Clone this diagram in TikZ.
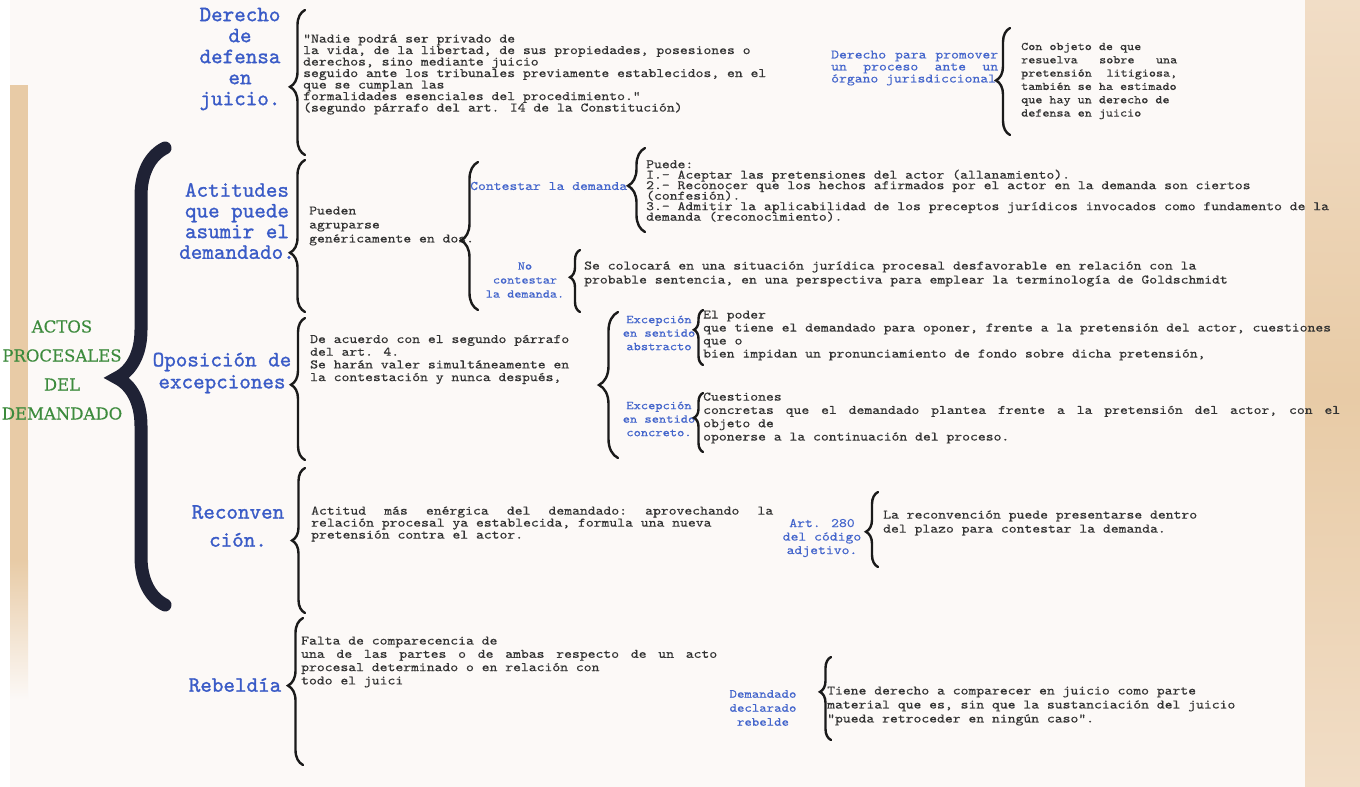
\documentclass[tikz,border=0pt]{standalone}
\usepackage{fontspec}
\usetikzlibrary{decorations.pathreplacing}

\newfontfamily\headfont{lmmono10-regular.otf}[FakeBold=1.2]
\newfontfamily\bodyfont{lmmono10-regular.otf}[FakeStretch=1.15, FakeBold=0.35]
\newfontfamily\titlefont{DejaVu Serif}[FakeBold=0.4]

\definecolor{paper}{HTML}{FCF9F7}
\definecolor{beige}{HTML}{E8CBA6}
\definecolor{beigelight}{HTML}{F1DDC6}
\definecolor{headblue}{HTML}{3A5BC7}
\definecolor{subblue}{HTML}{4466CC}
\definecolor{ink}{HTML}{333333}
\definecolor{titlegreen}{HTML}{3D8B3D}
\definecolor{navy}{HTML}{1F2235}
\definecolor{braceink}{HTML}{1A1A1A}

% one line stretched to a given width
\newcommand\jline[2]{{\frenchspacing\spaceskip=\fontdimen2\font plus 1fil\makebox[#1][s]{#2}}}
% fixed line pitch, even for tall lines
\newcommand\tightlines{\lineskiplimit=-20pt\relax}

\tikzset{
  title/.style={font={\fontsize{16.5}{29}\selectfont\titlefont}, text=titlegreen, align=center, inner sep=0pt},
  heading/.style={font={\fontsize{22}{#1}\selectfont\headfont\tightlines}, text=headblue, align=center, inner sep=0pt},
  heading/.default=21,
  sub/.style 2 args={font={\fontsize{#1}{#2}\selectfont\bodyfont\tightlines}, text=subblue, align=center, inner sep=0pt},
  body/.style={font={\fontsize{13}{#1}\selectfont\bodyfont\tightlines}, text=ink, align=left, anchor=west, inner sep=0pt},
  body/.default=13,
  brc/.style n args={2}{decorate, decoration={brace, amplitude=#1pt, aspect=#2},
    line width=2.4pt, line cap=round, draw=braceink}
}

\begin{document}
\begin{tikzpicture}[x=1pt, y=-1pt]
  \useasboundingbox (0,0) rectangle (1360,787);

  % Paper and side strips
  \fill[white] (0,0) rectangle (1360,787);
  \fill[paper] (10,0) rectangle (1305,787);
  \shade[top color=beigelight, bottom color=beigelight, middle color=beige] (1305,0) rectangle (1360,787);
  \fill[beige] (10,85) rectangle (28,560);
  \shade[top color=beige, bottom color=paper] (10,560) rectangle (28,700);

  % Main title
  \node[title] (title) at (62,370) {ACTOS\\PROCESALES\\DEL\\DEMANDADO};

  % Headings (blue)
  \node[heading] (hDefensa) at (240,59) {Derecho\\de\\defensa\\en\\juicio.};
  \node[heading=20.7] (hActitudes) at (237,221) {Actitudes\\que puede\\asumir el\\demandado.};
  \node[heading=22] (hOposicion) at (222,373) {Oposición de\\excepciones};
  \node[heading=28] (hReconv) at (238,526) {Reconven\\ción.};
  \node[heading] (hRebeldia) at (235,685) {Rebeldía};

  % Second level labels
  \node[sub={13}{12}, align=left, anchor=west] (sPromover) at (831,68)
    {\jline{167pt}{Derecho para promover}\\\jline{167pt}{un proceso ante un}\\órgano jurisdiccional};
  \node[sub={13}{13}, anchor=west] (sContestar) at (470,186) {Contestar la demanda.};
  \node[sub={11.8}{14}] (sNoContestar) at (525,280) {No\\contestar\\la demanda.};
  \node[sub={12}{13.5}] (sAbstracto) at (659,333) {Excepción\\en sentido\\abstracto};
  \node[sub={12}{13.5}] (sConcreto) at (659,419) {Excepción\\en sentido\\concreto.};
  \node[sub={13}{13.5}] (sArt) at (822,538) {Art. 280\\del código\\adjetivo.};
  \node[sub={12.3}{14}] (sRebelde) at (763,708) {Demandado\\declarado\\rebelde};

  % Texts
  \node[body=11.5] (tDefensa) at (303,74.5)
    {"Nadie podrá ser privado de\\la vida, de la libertad, de sus propiedades, posesiones o\\derechos, sino mediante juicio\\seguido ante los tribunales previamente establecidos, en el\\que se cumplan las\\formalidades esenciales del procedimiento."\\(segundo párrafo del art. I4 de la Constitución)};
  \node[body, font={\fontsize{11.7}{13.3}\selectfont\bodyfont\tightlines}] (tPromover) at (1021,81)
    {Con objeto de que\\\jline{156pt}{resuelva sobre una}\\\jline{156pt}{pretensión litigiosa,}\\también se ha estimado\\que hay un derecho de\\defensa en juicio};
  \node[body=14] (tPueden) at (309,226) {Pueden\\agruparse\\genéricamente en dos.};
  \node[body=10.5] (tContestar) at (646,191)
    {Puede:\\I.- Aceptar las pretensiones del actor (allanamiento).\\2.- Reconocer que los hechos afirmados por el actor en la demanda son ciertos\\(confesión).\\3.- Admitir la aplicabilidad de los preceptos jurídicos invocados como fundamento de la\\demanda (reconocimiento).};
  \node[body=14] (tNoContestar) at (584,274)
    {Se colocará en una situación jurídica procesal desfavorable en relación con la\\probable sentencia, en una perspectiva para emplear la terminología de Goldschmidt};
  \node[body=12.7] (tOposicion) at (310,359.5)
    {De acuerdo con el segundo párrafo\\del art. 4.\\Se harán valer simultáneamente en\\la contestación y nunca después,};
  \node[body=13] (tAbstracto) at (703,335.5)
    {El poder\\que tiene el demandado para oponer, frente a la pretensión del actor, cuestiones\\que o\\bien impidan un pronunciamiento de fondo sobre dicha pretensión,};
  \node[body=13.3] (tConcreto) at (703,418)
    {Cuestiones\\\jline{637pt}{concretas que el demandado plantea frente a la pretensión del actor, con el}\\objeto de\\oponerse a la continuación del proceso.};
  \node[body=12] (tReconv) at (311,524)
    {\jline{462pt}{Actitud más enérgica del demandado: aprovechando la}\\relación procesal ya establecida, formula una nueva\\pretensión contra el actor.};
  \node[body=14] (tArt) at (883,523)
    {La reconvención puede presentarse dentro\\del plazo para contestar la demanda.};
  \node[body=13.3] (tRebeldia) at (301,662)
    {Falta de comparecencia de\\\jline{416pt}{una de las partes o de ambas respecto de un acto}\\procesal determinado o en relación con\\todo el juici};
  \node[body=14] (tRebelde) at (827,706)
    {Tiene derecho a comparecer en juicio como parte\\material que es, sin que la sustanciación del juicio\\"pueda retroceder en ningún caso".};

  % Big brace
  \coordinate (bigTop) at (165,148);
  \coordinate (bigBot) at (165,605);
  \draw[brc={48}{0.497}, line width=13pt, draw=navy] (bigBot) -- (bigTop);

  % Small braces: name/x/top/bottom/amplitude/aspect
  \foreach \nm/\xe/\yt/\yb/\amp/\asp in {
    bDefensa/305/10/155/15/0.47, bActitudes/305/160/312/15/0.39,
    bOposicion/305/318/460/14/0.53, bReconv/305/468/613/13/0.5,
    bRebeldia/303/618/765/15/0.54, bPromover/1010/28/135/14/0.51,
    bPueden/478/162/310/17/0.47, bContestar/645/148/232/17/0.55,
    bNoContestar/580/250/312/10/0.56, bOpos/618/312/458/19/0.5,
    bAbstracto/703/310/365/9/0.64, bConcreto/703/393/452/9/0.58,
    bArt/878/492/567/12/0.47, bRebelde/831/657/740/11/0.58} {
    \coordinate (\nm-top) at (\xe,\yt);
    \coordinate (\nm-bot) at (\xe,\yb);
    \draw[brc={\amp}{\asp}] (\nm-bot) -- (\nm-top);
  }
\end{tikzpicture}
\end{document}
